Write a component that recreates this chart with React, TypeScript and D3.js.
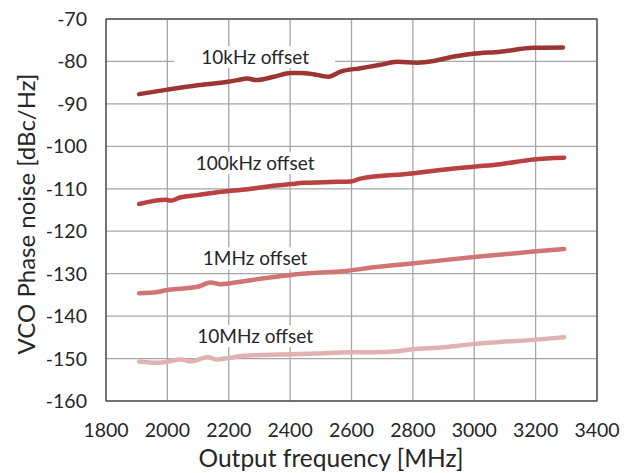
import React from "react";
import * as d3 from "d3";

const xTicks = [1800, 2000, 2200, 2400, 2600, 2800, 3000, 3200, 3400];
const yTicks = [-70, -80, -90, -100, -110, -120, -130, -140, -150, -160];

const freq10k = [1908, 1995, 2098, 2198, 2228, 2261, 2288, 2347, 2402, 2434, 2476, 2525, 2564, 2629, 2694, 2749, 2814, 2867, 2922, 2997, 3085, 3192, 3289];
const val10k = [-87.7, -86.7, -85.6, -84.8, -84.4, -84.0, -84.4, -83.6, -82.7, -82.7, -83.0, -83.6, -82.4, -81.6, -80.8, -80.1, -80.3, -79.9, -79.0, -78.2, -77.7, -76.8, -76.7];

const freq100k = [1908, 1995, 2011, 2044, 2098, 2163, 2261, 2347, 2402, 2445, 2532, 2597, 2629, 2797, 2889, 2998, 3085, 3193, 3293];
const val100k = [-113.6, -112.6, -112.8, -112.0, -111.5, -110.8, -110.1, -109.3, -108.9, -108.6, -108.4, -108.3, -107.6, -106.4, -105.6, -104.8, -104.2, -103.1, -102.7];

const freq1M = [1908, 1968, 1995, 2098, 2141, 2174, 2198, 2315, 2402, 2488, 2564, 2673, 2797, 2998, 3193, 3293];
const val1M = [-134.6, -134.3, -133.9, -133.1, -132.1, -132.5, -132.3, -131.1, -130.3, -129.8, -129.5, -128.5, -127.6, -126.1, -124.8, -124.2];

const freq10M = [1908, 1968, 1995, 2044, 2076, 2131, 2163, 2198, 2239, 2293, 2402, 2488, 2597, 2673, 2759, 2797, 2889, 2998, 3085, 3193, 3293];
const val10M = [-150.7, -151.0, -150.8, -150.2, -150.7, -149.7, -150.2, -149.9, -149.4, -149.2, -149.0, -148.8, -148.5, -148.5, -148.2, -147.8, -147.4, -146.6, -146.1, -145.6, -145.0];

const seriesNames = ["10kHz offset", "100kHz offset", "1MHz offset", "10MHz offset"];
const seriesColors = ["#9e3535", "#b94141", "#d07474", "#e2b1b1"];
const labelFreq = [2400, 2400, 2400, 2400];
const labelVal = [-79.0, -103.9, -126.4, -144.7];

const FONT = "Lato, 'Liberation Sans', sans-serif";

export default function App() {
  const left = 106, right = 597, top = 19, bottom = 401;
  const x = d3.scaleLinear().domain([1800, 3400]).range([left, right]);
  const y = d3.scaleLinear().domain([-160, -70]).range([bottom, top]);

  const series = [
    { f: freq10k, v: val10k },
    { f: freq100k, v: val100k },
    { f: freq1M, v: val1M },
    { f: freq10M, v: val10M },
  ];

  const line = d3
    .line<[number, number]>()
    .x((d) => x(d[0]))
    .y((d) => y(d[1]))
    .curve(d3.curveMonotoneX);

  return (
    <svg
      width={634}
      height={473}
      style={{ position: "fixed", left: 0, top: 0, background: "#fff" }}
      fontFamily={FONT}
    >
      <rect x={0} y={0} width={634} height={473} fill="#fff" />
      {yTicks.map((t) => (
        <line key={"gy" + t} x1={left} x2={right} y1={y(t)} y2={y(t)} stroke="#a6a6a6" strokeWidth={1.3} />
      ))}
      {xTicks.map((t) => (
        <line key={"gx" + t} x1={x(t)} x2={x(t)} y1={top} y2={bottom} stroke="#a6a6a6" strokeWidth={1.3} />
      ))}
      {seriesNames.map((n, i) => (
        <rect
          key={"lb" + i}
          x={x(labelFreq[i]) - 116}
          y={y(labelVal[i]) - 11}
          width={161}
          height={22}
          fill="#fff"
        />
      ))}
      {series.map((s, i) => (
        <path
          key={"s" + i}
          d={line(s.f.map((f, j) => [f, s.v[j]] as [number, number])) || ""}
          fill="none"
          stroke={seriesColors[i]}
          strokeWidth={4.5}
          strokeLinecap="round"
          strokeLinejoin="round"
        />
      ))}
      {seriesNames.map((n, i) => (
        <text
          key={"lt" + i}
          x={x(labelFreq[i]) - 35}
          y={y(labelVal[i])}
          dy="0.35em"
          textAnchor="middle"
          fontSize={19}
          fill="#262626"
        >
          {n}
        </text>
      ))}
      <rect x={left} y={top} width={right - left} height={bottom - top} fill="none" stroke="#404040" strokeWidth={1.2} />
      {yTicks.map((t) => (
        <text key={"ty" + t} x={87} y={y(t)} dy="0.36em" textAnchor="end" fontSize={19.5} fill="#262626">
          {t}
        </text>
      ))}
      {xTicks.map((t) => (
        <text key={"tx" + t} x={x(t)} y={437} textAnchor="middle" fontSize={19.5} fill="#262626">
          {t}
        </text>
      ))}
      <text x={331} y={467} textAnchor="middle" fontSize={24.5} fill="#262626">
        Output frequency [MHz]
      </text>
      <text
        transform={`translate(35, 214) rotate(-90)`}
        textAnchor="middle"
        fontSize={24}
        fill="#262626"
      >
        VCO Phase noise [dBc/Hz]
      </text>
    </svg>
  );
}
